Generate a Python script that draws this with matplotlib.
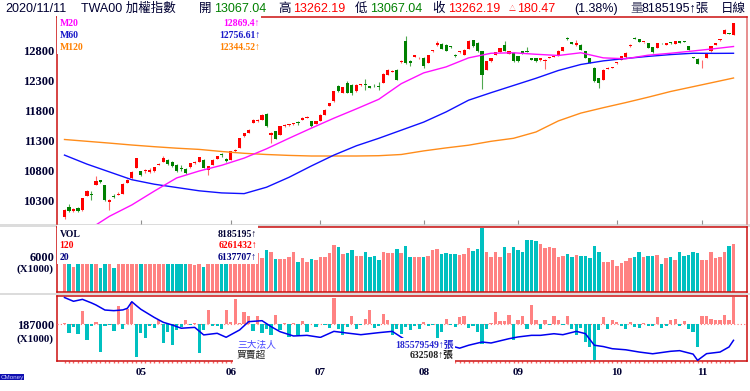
"""
TAIEX (TWA00) daily candlestick chart with volume and institutional net buy/sell.
"""

import numpy as np
import matplotlib
matplotlib.use('Agg')
import matplotlib.pyplot as plt
import matplotlib.patches as mpatches
import matplotlib.transforms as mtransforms

# ── Data ──────────────────────────────────────────────────────────────────────

OPEN = [10023, 10189, 10123, 10178, 10140, 10383, 10410, 10567, 10640, 10556,
        10272, 10380, 10400, 10417, 10600, 10678, 10845, 10790, 10790, 10780,
        10790, 10900, 10950, 10984, 10950, 10900, 10840, 10830, 10855, 10925,
        10945, 10984, 10817, 10900, 11000, 11070, 11000, 10984, 11123, 11178,
        11373, 11430, 11595, 11620, 11650, 11750, 11400, 11456, 11400, 11540,
        11560, 11575, 11595, 11650, 11680, 11623, 11578, 11634, 11723, 11873,
        11956, 12206, 12095, 12262, 12234, 12123, 12220, 12245, 12206, 12215,
        12210, 12262, 12400, 12450, 12484, 12610, 12956, 12620, 12700, 12670,
        12678, 12595, 12790, 12890, 12911, 12900, 12870, 12735, 12770, 12734,
        12834, 12978, 12928, 12789, 12484, 12623, 12734, 12778, 12900, 12750,
        12760, 12706, 12790, 12790, 12678, 12678, 12640, 12630, 12680, 12700,
        12720, 12800, 13000, 12945, 12900, 12900, 12789, 12678, 12512, 12345,
        12317, 12500, 12512, 12590, 12650, 12690, 12873, 13010, 12995, 12940,
        12928, 12856, 12845, 12925, 12900, 12940, 12912, 12956, 12950, 12873,
        12690, 12667, 12620, 12678, 12789, 12900, 12973, 13078, 13090, 13067.04]
HIGH = [10165, 10245, 10180, 10190, 10350, 10478, 10456, 10717, 10650, 10570,
        10330, 10420, 10440, 10590, 10665, 10790, 11020, 10800, 10830, 10850,
        10870, 10935, 11040, 11000, 10960, 10910, 10890, 10850, 10935, 10960,
        11030, 10995, 10880, 10990, 11045, 11100, 11010, 11130, 11160, 11350,
        11435, 11490, 11655, 11660, 11740, 11760, 11450, 11465, 11545, 11570,
        11585, 11600, 11630, 11690, 11705, 11630, 11628, 11740, 11825, 11935,
        12130, 12230, 12195, 12290, 12245, 12240, 12250, 12320, 12215, 12240,
        12270, 12420, 12490, 12470, 12495, 12640, 13040, 12640, 12730, 12690,
        12690, 12725, 12815, 12955, 12920, 12905, 12880, 12745, 12795, 12820,
        12970, 12985, 12940, 12795, 12630, 12685, 12778, 12850, 12955, 12795,
        12770, 12712, 12795, 12855, 12685, 12685, 12685, 12660, 12695, 12715,
        12805, 12860, 13020, 12950, 12985, 12905, 12795, 12685, 12520, 12350,
        12490, 12520, 12535, 12610, 12710, 12770, 12905, 13020, 13000, 12950,
        12935, 12860, 12933, 12935, 12935, 12950, 12960, 12965, 12955, 12880,
        12700, 12675, 12640, 12750, 12878, 12935, 12995, 13155, 13100, 13262.19]
LOW = [9990, 10120, 10105, 10110, 10130, 10375, 10317, 10555, 10600, 10300,
       10150, 10340, 10390, 10410, 10590, 10670, 10840, 10720, 10770, 10760,
       10780, 10890, 10940, 10900, 10860, 10780, 10790, 10745, 10850, 10915,
       10940, 10840, 10735, 10895, 10995, 11030, 10950, 10980, 11115, 11170,
       11365, 11425, 11590, 11610, 11645, 11535, 11260, 11325, 11395, 11530,
       11550, 11560, 11560, 11645, 11670, 11530, 11570, 11630, 11720, 11870,
       11950, 12115, 12090, 12090, 12060, 12115, 12215, 12150, 12170, 12195,
       12140, 12255, 12395, 12440, 12310, 12600, 12570, 12540, 12690, 12660,
       12510, 12590, 12785, 12885, 12830, 12795, 12850, 12700, 12765, 12730,
       12830, 12868, 12785, 12167, 12480, 12618, 12730, 12775, 12795, 12745,
       12618, 12618, 12745, 12770, 12645, 12618, 12635, 12500, 12675, 12695,
       12715, 12795, 12980, 12905, 12870, 12812, 12673, 12590, 12285, 12178,
       12310, 12495, 12505, 12585, 12645, 12685, 12868, 12995, 12940, 12935,
       12840, 12768, 12840, 12915, 12895, 12915, 12905, 12923, 12940, 12812,
       12675, 12573, 12512, 12673, 12784, 12895, 12968, 13073, 13075, 13067.04]
CLOSE = [10150, 10134, 10167, 10130, 10345, 10467, 10395, 10623, 10612, 10317,
         10317, 10365, 10415, 10584, 10650, 10778, 11012, 10735, 10800, 10810,
         10860, 10920, 11020, 10912, 10875, 10790, 10830, 10760, 10928, 10945,
         11023, 10845, 10873, 10984, 11040, 11060, 10960, 11123, 11150, 11345,
         11428, 11480, 11650, 11650, 11733, 11540, 11430, 11334, 11540, 11560,
         11570, 11580, 11590, 11680, 11690, 11540, 11623, 11733, 11817, 11928,
         12123, 12123, 12190, 12095, 12095, 12234, 12240, 12230, 12180, 12205,
         12200, 12412, 12484, 12460, 12317, 12625, 12595, 12600, 12720, 12680,
         12540, 12720, 12810, 12920, 12834, 12800, 12860, 12710, 12790, 12817,
         12967, 12873, 12789, 12390, 12623, 12678, 12773, 12845, 12800, 12789,
         12623, 12623, 12750, 12785, 12650, 12623, 12678, 12640, 12690, 12710,
         12800, 12856, 12990, 12910, 12920, 12817, 12678, 12595, 12290, 12262,
         12484, 12512, 12530, 12600, 12706, 12762, 12900, 13000, 12945, 12945,
         12845, 12773, 12928, 12920, 12930, 12920, 12956, 12928, 12945, 12817,
         12680, 12578, 12625, 12745, 12873, 12928, 12990, 13150, 13081.72, 13262.19]

# moving averages, read every 5 trading days
MA_DAY = [0, 5, 10, 15, 20, 25, 30, 35, 40, 45, 50, 55, 60, 65, 70, 75,
          80, 85, 90, 95, 100, 105, 110, 115, 120, 125, 130, 135, 140, 145, 149]
M120 = [11320, 11290, 11260, 11228, 11200, 11175, 11155, 11120, 11090, 11070,
        11055, 11045, 11045, 11045, 11050, 11070, 11130, 11180, 11225, 11290,
        11340, 11445, 11630, 11760, 11850, 11935, 12025, 12120, 12200, 12280, 12344.52]
M60 = [11060, 10910, 10780, 10650, 10575, 10520, 10465, 10430, 10418, 10525,
       10690, 10880, 11060, 11215, 11340, 11475, 11610, 11780, 11975, 12100,
       12220, 12340, 12470, 12570, 12630, 12670, 12705, 12735, 12757, 12755, 12756.61]
M20_DAY = MA_DAY[1:]
M20 = [9800, 10040, 10230, 10460, 10680, 10795, 10890, 11010, 11165, 11340,
       11510, 11675, 11830, 11990, 12250, 12430, 12530, 12680, 12757, 12765,
       12740, 12720, 12765, 12680, 12665, 12725, 12757, 12795, 12835, 12869.4]

# volume (x1000)
VOLUME = [5200, 5600, 4300, 5000, 5800, 5500, 5100, 6200, 4020, 6500,
          5400, 4130, 5000, 5900, 5600, 6100, 6800, 6000, 5200, 5400,
          5700, 5300, 6000, 5500, 5800, 6000, 5200, 5300, 5000, 4590,
          5100, 4190, 5300, 5700, 5900, 5400, 5600, 6300, 5800, 7000,
          6500, 6200, 6800, 6600, 5720, 7140, 6740, 5610, 5610, 5610,
          5890, 6860, 5160, 5720, 5160, 5610, 5440, 5890, 6010, 6570,
          7990, 7710, 6460, 6630, 7140, 6180, 6180, 6860, 5890, 6180,
          5440, 6860, 6570, 6570, 7310, 6570, 7880, 6010, 6010, 6010,
          5890, 6180, 7140, 7310, 6460, 6570, 6460, 6460, 6290, 6460,
          7420, 7030, 7310, 10820, 6740, 6010, 6740, 6010, 7590, 6570,
          7590, 7140, 6860, 8840, 8840, 8670, 8100, 7540, 7590, 7420,
          6010, 6120, 6400, 6010, 6290, 6120, 6120, 5720, 7820, 6740,
          5160, 5160, 5440, 4480, 4870, 5270, 5720, 5890, 6740, 5890,
          6180, 6180, 6290, 4760, 5720, 5890, 5440, 6860, 6180, 6290,
          6860, 6570, 5440, 5440, 6740, 5720, 5890, 6860, 7880, 8185.195]

# three major institutional investors: daily net (x1000) and running total
INST_NET = [38, -209, -60, -224, 317, -363, -30, 61, -634, -40,
            -20, -147, 424, -116, 347, 524, -750, -209, -324, -40,
            -93, 100, -441, -170, -479, -131, -70, 100, -20, 23,
            -672, -131, 332, -39, -30, -116, 332, 61, 578, 40,
            293, 193, -147, 193, -209, -100, -255, 224, -131, 23,
            -286, 23, -255, 69, -178, 15, -60, 15, -23, -80,
            610, -100, -255, -62, 193, -116, -23, 131, 324, -90,
            -40, 247, 93, -255, -116, -216, -60, -139, -30, -116,
            54, -40, -23, -332, -178, 131, -23, -62, 170, 193,
            -85, -40, -178, -448, -100, 20, 286, 69, 69, 208,
            -371, 93, 193, -100, 455, 93, -100, 93, -23, 193,
            93, -23, 193, -100, -255, -80, -409, -525, -834, -139,
            170, -100, 93, 54, -40, -100, 54, -62, -85, 20,
            -30, -40, 170, -85, -30, 93, 131, -40, 69, -100,
            -178, -525, 193, 193, 131, 93, 93, 208, 93, 632.508]
INST_CUM_DAY = [0, 2, 4, 6, 7, 9, 11, 13, 14, 15, 16, 17, 20, 22, 24, 26, 29, 31,
                34, 36, 39, 41, 44, 46, 48, 51, 54, 57, 60, 63, 66, 70, 73, 76,
                80, 84, 87, 88, 90, 93, 95, 99, 101, 104, 106, 109, 111, 114, 116,
                118, 120, 122, 125, 128, 131, 135, 137, 140, 141, 143, 146, 148, 149]
INST_CUM = [189550, 189200, 189380, 189050, 188860, 188390, 188330, 188400, 188550,
            189160, 188800, 188460, 187700, 187250, 187000, 186700, 186780, 186080,
            186230, 185860, 186540, 187310, 187400, 186850, 186380, 185980, 186040,
            185850, 186410, 186250, 186100, 186290, 186410, 185600, 185200, 184900,
            184960, 184850, 185120, 185420, 185330, 185730, 185890, 186040, 186040,
            186190, 186100, 186410, 186200, 185120, 185000, 184800, 184700, 184490,
            184330, 184560, 184620, 184300, 183720, 184340, 184490, 184960, 185579.549]

MONTH_START = [17, 37, 57, 80, 101, 123, 142]
MONTH_LABELS = ['05', '06', '07', '08', '09', '10', '11']
PRICE_TICKS = [10300, 10800, 11300, 11800, 12300, 12800]

# ── Style ─────────────────────────────────────────────────────────────────────

W, H = 750, 391
LEFT, RIGHT = 57, 747
X0, DX = 64.5, 4.49            # pixel x of day 0, pixels per day
UP, DOWN = '#FF0000', '#008000'
VOL_UP, VOL_DOWN = '#FF8282', '#00C0C0'
FRAME = '#CC1010'
NAVY = '#000033'
SERIF = ['Liberation Serif', 'Noto Sans CJK TC', 'DejaVu Serif']
SANS = ['Liberation Sans', 'Noto Sans CJK TC', 'DejaVu Sans']

plt.rcParams['font.family'] = SERIF


def fig_text(fig, x, y, s, **kw):
    kw.setdefault('va', 'center')
    return fig.text(x / W, 1 - y / H, s, **kw)


def fig_box(fig, x0, y0, x1, y1, color='white', z=1):
    fig.add_artist(mpatches.Rectangle((x0 / W, 1 - y1 / H), (x1 - x0) / W, (y1 - y0) / H,
                                      transform=fig.transFigure, facecolor=color,
                                      edgecolor='none', zorder=z))


def panel(fig, top, bottom):
    ax = fig.add_axes([LEFT / W, 1 - bottom / H, (RIGHT - LEFT) / W, (bottom - top) / H])
    ax.set_xlim((LEFT - X0) / DX, (RIGHT - X0) / DX)
    ax.set_facecolor('white')
    for s in ax.spines.values():
        s.set_color(FRAME)
        s.set_linewidth(1.1)
    ax.tick_params(axis='both', length=0, pad=2, labelsize=9, labelcolor=NAVY)
    ax.set_xticks([])
    return ax


def bold_ticks(ax):
    for t in ax.get_yticklabels():
        t.set_fontweight('bold')


# ── Panels ────────────────────────────────────────────────────────────────────

def draw_price(fig):
    ax = panel(fig, 17, 224)
    ax.set_ylim(9912, 13361)
    o, h, l, c = (np.array(a, dtype=float) for a in (OPEN, HIGH, LOW, CLOSE))
    x = np.arange(len(c))
    up = c >= o
    ax.vlines(x[up], l[up], h[up], color='#FF6A6A', linewidth=0.8, zorder=2)
    ax.vlines(x[~up], l[~up], h[~up], color='#50A850', linewidth=0.8, zorder=2)
    body = np.maximum(np.abs(c - o), 14)
    ax.bar(x, body, 0.7, bottom=np.minimum(o, c), color=np.where(up, UP, DOWN),
           linewidth=0, zorder=3)

    ax.plot(MA_DAY, M120, color='#FF8C1A', linewidth=1.0, zorder=4)
    ax.plot(MA_DAY, M60, color='#1010FF', linewidth=1.0, zorder=4)
    ax.plot(M20_DAY, M20, color='#FF10FF', linewidth=1.0, zorder=4)

    ax.set_yticks(PRICE_TICKS)
    ax.set_yticklabels([str(v) for v in PRICE_TICKS])
    bold_ticks(ax)
    ax.spines['bottom'].set_visible(False)
    ax.spines['right'].set_color('#E07070')
    ax.set_xticks(MONTH_START)
    ax.set_xticklabels([])
    ax.tick_params(axis='x', length=3, direction='in', color='#909090')

    fig_box(fig, 57, 15, 261, 54)
    legend = [('M20', '12869.4↑', '#FF00FF', 24),
              ('M60', '12756.61↑', '#1818C8', 36),
              ('M120', '12344.52↑', '#FF8000', 48)]
    for name, val, col, y in legend:
        fig_text(fig, 59.5, y, name, color=col, fontsize=7, fontweight='bold')
        fig_text(fig, 260, y, val, color=col, fontsize=7, fontweight='bold', ha='right')


def draw_volume(fig):
    ax = panel(fig, 227, 292)
    ax.set_ylim(0, 11050)
    v = np.array(VOLUME, dtype=float)
    up = np.array(CLOSE) >= np.array(OPEN)
    ax.bar(np.arange(len(v)), v, 0.78, color=np.where(up, VOL_UP, VOL_DOWN),
           linewidth=0, zorder=2)
    ax.set_yticks([6000])
    ax.set_yticklabels(['6000'])
    ax.tick_params(axis='y', labelsize=8.8)
    bold_ticks(ax)
    fig_text(fig, 54, 269.5, '(X1000)', color=NAVY, fontsize=7.8, fontweight='bold', ha='right')

    fig_box(fig, 57, 225, 258, 264)
    legend = [('VOL', '8185195↑', NAVY, 234.5),
              ('120', '6261432↑', '#FF0000', 246),
              ('20', '6137707↑', '#000080', 257.5)]
    for name, val, col, y in legend:
        fig_text(fig, 59.5, y, name, color=col, fontsize=7, fontweight='bold')
        fig_text(fig, 257, y, val, color=col, fontsize=7, fontweight='bold', ha='right')


def draw_institutional(fig):
    ax = panel(fig, 296, 361)
    ax.set_ylim(183659, 189691)
    bars = ax.twinx()
    bars.set_xlim(ax.get_xlim())
    bars.set_ylim(-850, 656)
    bars.set_yticks([])
    for s in bars.spines.values():
        s.set_visible(False)
    net = np.array(INST_NET, dtype=float)
    bars.bar(np.arange(len(net)), net, 0.72, color=np.where(net >= 0, VOL_UP, VOL_DOWN),
             linewidth=0, zorder=2)
    bars.axhline(0, color='#FF7070', linewidth=0.8, linestyle=(0, (1, 2)), zorder=1)
    bars.plot(INST_CUM_DAY, np.interp(INST_CUM, [183659, 189691], [-850, 656]),
              color='#0000F0', linewidth=1.1, zorder=3)

    ax.set_yticks([187000])
    ax.set_yticklabels(['187000'])
    ax.tick_params(axis='y', labelsize=8.8)
    bold_ticks(ax)
    fig_text(fig, 54, 339, '(X1000)', color=NAVY, fontsize=7.8, fontweight='bold', ha='right')

    # daily tick marks along the bottom
    ax.set_xticks(np.arange(len(CLOSE)), minor=True)
    ax.tick_params(axis='x', which='minor', length=1.5, width=1, color='#FF6060', direction='out')
    tr = mtransforms.blended_transform_factory(ax.transData, ax.transAxes)
    for d, lab in zip(MONTH_START, MONTH_LABELS):
        ax.text(d, -0.17, lab, transform=tr, ha='center', va='center',
                fontsize=8, fontweight='bold', color=NAVY)

    fig_box(fig, 233, 338, 455, 364)
    fig_text(fig, 237, 345, '三大法人', color='#4646FF', fontsize=7, family=SERIF)
    fig_text(fig, 454, 345, '185579549↑張', color='#2828D0', fontsize=7,
             fontweight='bold', ha='right')
    fig_text(fig, 237, 355.5, '買賣超', color='#202020', fontsize=7, family=SERIF)
    fig_text(fig, 454, 355.5, '632508↑張', color='#202020', fontsize=7,
             fontweight='bold', ha='right')


def draw_header(fig):
    items = [(5, '2020/11/11', NAVY), (81, 'TWA00 加權指數', NAVY),
             (199, '開', NAVY), (214, '13067.04', '#008000'),
             (278, '高', NAVY), (293, '13262.19', '#FF0000'),
             (355, '低', NAVY), (370, '13067.04', '#008000'),
             (432, '收', NAVY), (448, '13262.19', '#FF0000'),
             (517, '180.47', '#FF0000'), (574, '(1.38%)', NAVY),
             (630, '量', '#505070'), (642, '8185195↑張', NAVY), (721, '日線', NAVY)]
    for x, s, col in items:
        fig_text(fig, x, 9, s, color=col, fontsize=9, family=SANS)
    fig_text(fig, 509, 9.5, '△', color='#FF0000', fontsize=5, family=SANS)


def main():
    fig = plt.figure(figsize=(W / 100, H / 100), dpi=100)
    fig.patch.set_facecolor('white')
    fig_box(fig, 0, 224, W, 226.5, color='#DCDCDC', z=-1)
    fig_box(fig, 0, 292.5, W, 295, color='#DCDCDC', z=-1)

    draw_price(fig)
    draw_volume(fig)
    draw_institutional(fig)
    draw_header(fig)

    fig.text(0.3 / W, 1 - 377 / H, 'CMoney', fontsize=4.5, color='#C8C8FF', va='center',
             family=SANS, bbox=dict(facecolor='#1010B0', edgecolor='none', pad=0.6))

    fig.savefig('out.png', dpi=100)
    plt.close(fig)


if __name__ == '__main__':
    main()
